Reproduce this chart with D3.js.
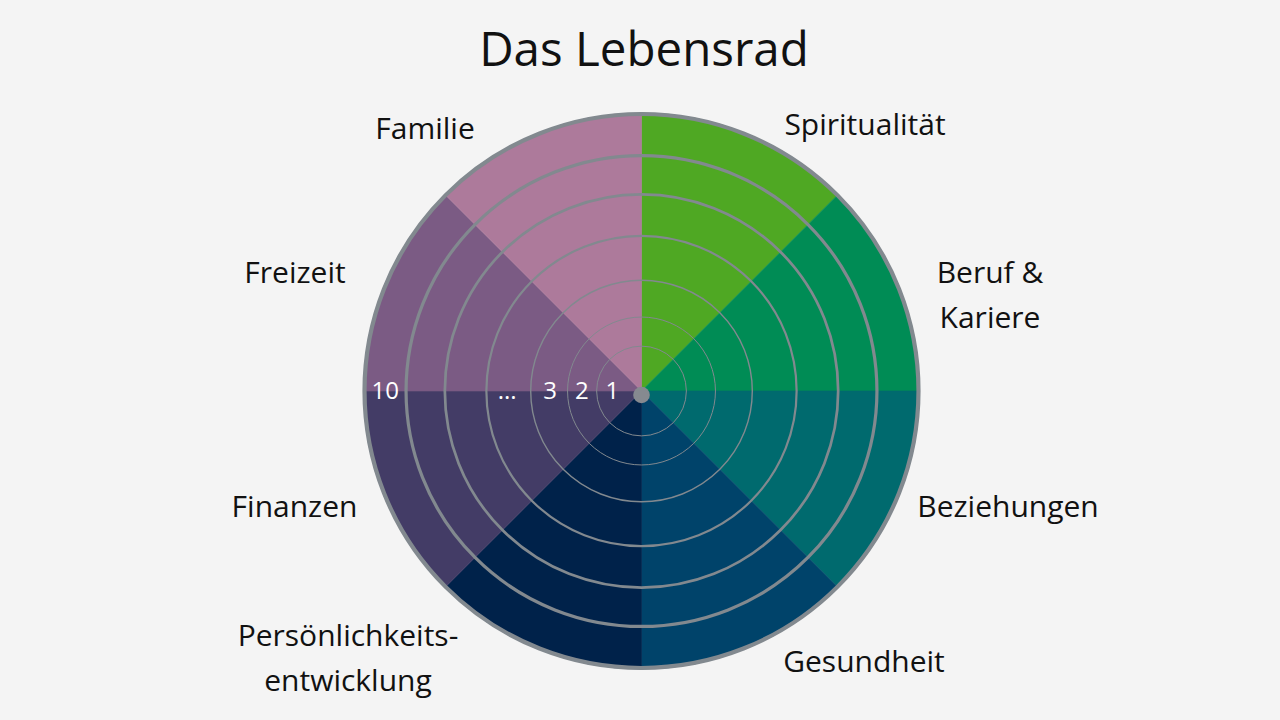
<!DOCTYPE html>
<html>
<head>
<meta charset="utf-8">
<script src="https://cdn.jsdelivr.net/npm/d3@7/dist/d3.min.js"></script>
<style>
  html, body { margin: 0; padding: 0; background: #f4f4f4; }
  svg { display: block; }
  text { font-family: "Open Sans", Lato, sans-serif; }
</style>
</head>
<body>
<svg id="chart" width="1280" height="720"></svg>
<script>
// ---- data ----
const title = "Das Lebensrad";
const categories = ["Spiritualität", "Beruf & Kariere", "Beziehungen", "Gesundheit",
                    "Persönlichkeitsentwicklung", "Finanzen", "Freizeit", "Familie"];
const labelLines = [["Spiritualität"], ["Beruf &", "Kariere"], ["Beziehungen"], ["Gesundheit"],
                    ["Persönlichkeits-", "entwicklung"], ["Finanzen"], ["Freizeit"], ["Familie"]];
const segmentColors = ["#4fa823", "#008c55", "#006a6e", "#00436a",
                       "#00224a", "#433c66", "#7b5b84", "#ad7a9b"];
const segmentShare = [1, 1, 1, 1, 1, 1, 1, 1];
const ringLevels = [1.62, 2.67, 4.0, 5.6, 7.1, 8.5, 10];
const scaleLabels = ["1", "2", "3", "...", "10"];
const scaleLabelLevels = [1.05, 2.15, 3.3, 4.85, 9.25];

// ---- layout ----
const svg = d3.select("#chart");
const cx = 641.5, cy = 391;
const R = 277;
const r = d3.scaleLinear().domain([0, 10]).range([0, R]);

svg.append("text")
  .attr("x", 644).attr("y", 66)
  .attr("text-anchor", "middle")
  .attr("font-size", 47.5)
  .attr("fill", "#111")
  .text(title);

const g = svg.append("g").attr("transform", `translate(${cx},${cy})`);

const pie = d3.pie().sort(null).value(d => d);
const arc = d3.arc().innerRadius(0).outerRadius(r(10) + 1);

g.selectAll("path.seg")
  .data(pie(segmentShare))
  .join("path")
  .attr("class", "seg")
  .attr("d", arc)
  .attr("fill", (d, i) => segmentColors[i])
  .attr("stroke", (d, i) => segmentColors[i])
  .attr("stroke-width", 0.6);

const ringWidths = [1, 1, 1.4, 2.2, 2.7, 3.2, 4.2];
g.selectAll("circle.ring")
  .data(ringLevels)
  .join("circle")
  .attr("class", "ring")
  .attr("r", d => r(d))
  .attr("fill", "none")
  .attr("stroke", "#82898f")
  .attr("stroke-width", (d, i) => ringWidths[i]);

g.append("circle")
  .attr("cx", 0).attr("cy", 4)
  .attr("r", 8.3)
  .attr("fill", "#868a90");

g.selectAll("text.lvl")
  .data(scaleLabels)
  .join("text")
  .attr("class", "lvl")
  .attr("x", (d, i) => -r(scaleLabelLevels[i]))
  .attr("y", 8)
  .attr("text-anchor", "middle")
  .attr("font-size", 24)
  .attr("fill", "#ffffff")
  .text(d => d);

// category label anchor points (text centre, first baseline)
const labelPos = [[865, 135], [990, 283], [1008, 517], [864, 672],
                  [348, 646], [294.5, 517], [295, 283], [425, 139]];
const lineGap = 45;

categories.forEach((c, i) => {
  const t = svg.append("text")
    .attr("text-anchor", "middle")
    .attr("font-size", 30)
    .attr("fill", "#111");
  labelLines[i].forEach((ln, j) => {
    t.append("tspan")
      .attr("x", labelPos[i][0])
      .attr("y", labelPos[i][1] + j * lineGap)
      .text(ln);
  });
});
</script>
</body>
</html>
